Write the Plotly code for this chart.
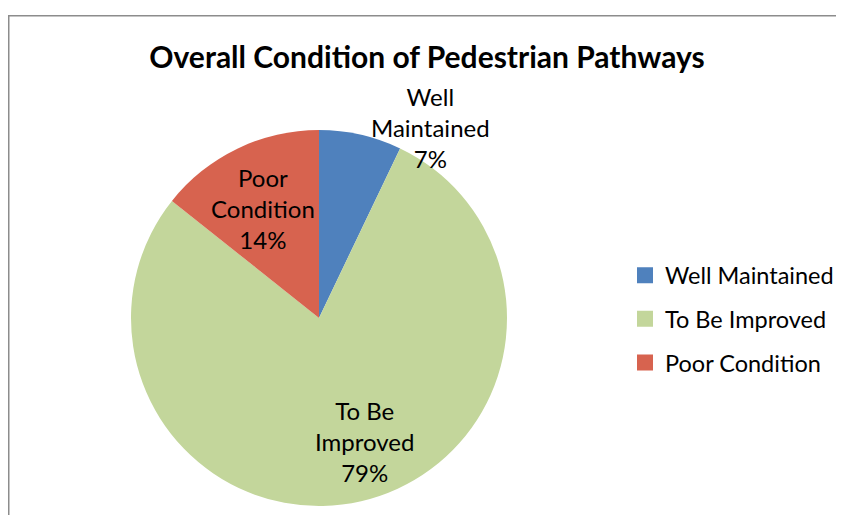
import plotly.graph_objects as go

# slice data, clockwise from 12 o'clock
labels = ["Well Maintained", "To Be Improved", "Poor Condition"]
shares = [7.1, 78.6, 14.3]
colors = ["#4F81BD", "#C3D69B", "#D7634F"]

wrapped = ["<br>".join(l.rsplit(" ", 1)) for l in labels]
total = sum(shares)
pct = [f"{round(100 * v / total)}%" for v in shares]

W, H = 844, 515
OFF = 8  # page body margin; positions below are page pixels minus this
FONT = "Lato, 'Open Sans', sans-serif"


def px(x):
    return (x - OFF) / W


def py(y):
    return 1 - (y - OFF) / H


fig = go.Figure()

fig.add_trace(go.Pie(
    labels=labels,
    values=shares,
    sort=False,
    direction="clockwise",
    rotation=0,
    marker=dict(colors=colors, line=dict(width=0)),
    textinfo="none",
    domain=dict(x=[px(131), px(507)], y=[py(506), py(130)]),
    showlegend=False,
    hoverinfo="label+percent",
))

# legend entries (spaced like the original)
for i, (lab, col) in enumerate(zip(labels, colors)):
    fig.add_trace(go.Scatter(
        x=[None], y=[None], mode="markers", name=lab,
        legendgroup=f"g{i}",
        marker=dict(symbol="square", size=16, color=col),
    ))

# data labels, placed where the original puts them
label_pos = [(430, 127), (364, 441), (263, 208)]
annotations = [
    dict(
        text=f"{w}<br>{p}", x=px(x), y=py(y), xref="paper", yref="paper",
        xanchor="center", yanchor="middle", showarrow=False, align="center",
        font=dict(family=FONT, size=24, color="#000000"),
    )
    for w, p, (x, y) in zip(wrapped, pct, label_pos)
]

fig.update_layout(
    width=W, height=H,
    margin=dict(l=0, r=0, t=0, b=0),
    paper_bgcolor="#ffffff",
    plot_bgcolor="#ffffff",
    font=dict(family=FONT, size=20, color="#000000"),
    title=dict(
        text="<b>Overall Condition of Pedestrian Pathways</b>",
        x=px(427), xanchor="center", y=py(57), yanchor="middle",
        font=dict(family=FONT, size=30, color="#000000"),
    ),
    xaxis=dict(visible=False),
    yaxis=dict(visible=False),
    legend=dict(
        x=px(625), xanchor="left", y=py(319), yanchor="middle",
        font=dict(family=FONT, size=23.5, color="#000000"),
        tracegroupgap=10,
        bgcolor="rgba(0,0,0,0)",
    ),
    annotations=annotations,
    shapes=[dict(
        type="rect", xref="paper", yref="paper",
        x0=px(8.75), x1=1.05, y0=-0.05, y1=py(15.75),
        line=dict(color="#8C8C8C", width=1.5),
        fillcolor="rgba(0,0,0,0)", layer="below",
    )],
)

fig.write_html("out.html")
